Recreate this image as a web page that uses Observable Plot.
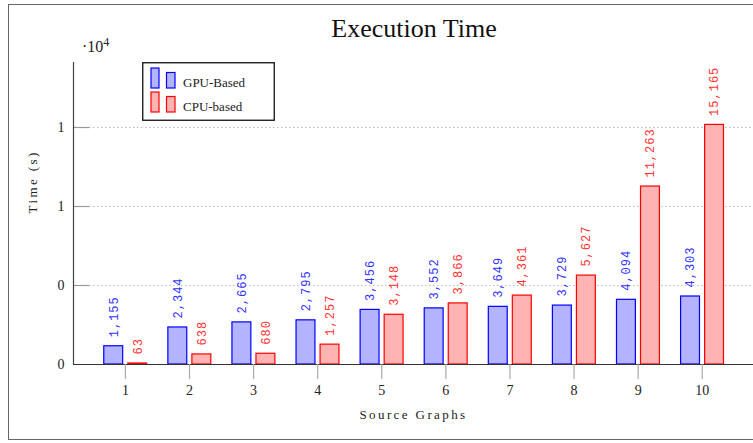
<!DOCTYPE html>
<html>
<head>
<meta charset="utf-8">
<script src="https://cdn.jsdelivr.net/npm/d3@7"></script>
<script src="https://cdn.jsdelivr.net/npm/@observablehq/plot@0.6"></script>
<style>
  html, body { margin: 0; padding: 0; background: #fff; }
  #wrap { position: relative; width: 753px; height: 443px; overflow: hidden; }
  #frame { position: absolute; left: 8px; top: 4px; width: 800px; height: 436px; border: 1.5px solid #666; box-sizing: border-box; }
  #title { position: absolute; left: 0; width: 828px; top: 14px; text-align: center; font-family: "Liberation Serif", serif; font-size: 26px; color: #111; }
  #exp { position: absolute; left: 82px; top: 35px; font-family: "Liberation Serif", serif; font-size: 16px; color: #222; }
  #exp sup { font-size: 12px; vertical-align: 6px; }
  #legend { position: absolute; left: 142px; top: 62px; }
  #chart { position: absolute; left: 0; top: 0; }
</style>
</head>
<body>
<div id="wrap">
  <div id="chart"></div>
  <div id="frame"></div>
  <div id="title">Execution Time</div>
  <div id="exp">·10<sup>4</sup></div>
  <div id="legend"></div>
</div>
<script>
const categories = [1, 2, 3, 4, 5, 6, 7, 8, 9, 10];
const gpuValues = [1155, 2344, 2665, 2795, 3456, 3552, 3649, 3729, 4094, 4303];
const cpuValues = [63, 638, 680, 1257, 3148, 3866, 4361, 5627, 11263, 15165];
const seriesNames = ["GPU-Based", "CPU-based"];
const yTicks = [0, 5000, 10000, 15000];
const yTickLabels = ["0", "0", "1", "1"];
const xLabel = "Source Graphs";
const yLabel = "Time (s)";

const colors = {
  "GPU-Based": {fill: "#b3b3ff", stroke: "#0000ff", text: "#3333ff"},
  "CPU-based": {fill: "#ffb3b3", stroke: "#ff0000", text: "#ff3333"}
};

const rows = [];
categories.forEach((c, i) => {
  rows.push({cat: c, series: seriesNames[0], value: gpuValues[i]});
  rows.push({cat: c, series: seriesNames[1], value: cpuValues[i]});
});

const xDomain = [0.19, 10.8];
const yDomain = [0, 19114];
const isGpu = d => d.series === seriesNames[0];
const fmt = d3.format(",");
const serif = "Liberation Serif, serif";
const mono = "Liberation Mono, monospace";

const chart = Plot.plot({
  width: 753,
  height: 443,
  marginLeft: 73,
  marginRight: 0,
  marginTop: 62,
  marginBottom: 79,
  style: {background: "transparent", overflow: "visible"},
  x: {domain: xDomain, axis: null},
  y: {domain: yDomain, axis: null},
  marks: [
    Plot.ruleY(yTicks.slice(1), {stroke: "#bdbdbd", strokeDasharray: "1.5,2.5", strokeWidth: 1}),
    Plot.tickY(yTicks.slice(1), {stroke: "#999", strokeWidth: 1.2, insetRight: 664}),
    Plot.rectY(rows, {
      x1: d => d.cat + (isGpu(d) ? -0.33 : 0.045),
      x2: d => d.cat + (isGpu(d) ? -0.035 : 0.34),
      y1: 0,
      y2: "value",
      fill: d => colors[d.series].fill,
      stroke: d => colors[d.series].stroke,
      strokeWidth: 1.2
    }),
    Plot.text(rows, {
      x: d => d.cat + (isGpu(d) ? -0.1825 : 0.1925),
      y: "value",
      text: d => fmt(d.value),
      rotate: -90,
      textAnchor: "start",
      lineAnchor: "middle",
      dy: -9,
      fill: d => colors[d.series].text,
      fontFamily: mono,
      fontSize: 12
    }),
    Plot.ruleY([0], {stroke: "#333", strokeWidth: 1.2}),
    Plot.ruleX([xDomain[0]], {stroke: "#444", strokeWidth: 1.2}),
    Plot.axisX(categories, {
      tickSize: 15, tickPadding: 6, stroke: "#aaa", strokeWidth: 1.2,
      fill: "#222", fontSize: 14, fontFamily: serif,
      tickFormat: d => String(d), label: null
    }),
    Plot.axisY(yTicks, {
      tickSize: 0, tickPadding: 9, fill: "#222", fontSize: 14, fontFamily: serif,
      tickFormat: d => yTickLabels[yTicks.indexOf(d)], label: null
    }),
    Plot.text([xLabel], {
      frameAnchor: "bottom", dy: 54, fontFamily: serif, fontSize: 13, fill: "#222"
    }),
    Plot.text([yLabel], {
      frameAnchor: "left", dx: -41, rotate: -90, fontFamily: serif, fontSize: 13, fill: "#222"
    })
  ]
});
document.getElementById("chart").appendChild(chart);

// LaTeX-like letter spacing
d3.select(chart).selectAll("text").each(function() {
  const t = this.textContent;
  const g = this.closest("g");
  const ff = (g && g.getAttribute("font-family")) || "";
  if (t === xLabel || t === yLabel) this.setAttribute("letter-spacing", "2.4px");
  else if (ff.includes("Mono")) this.setAttribute("letter-spacing", "1px");
});

// Legend
const lg = d3.select("#legend").append("svg").attr("width", 134).attr("height", 60);
lg.append("rect").attr("x", 0.75).attr("y", 0.75).attr("width", 131.5).attr("height", 57.5)
  .attr("fill", "#fff").attr("stroke", "#111").attr("stroke-width", 1.3);
seriesNames.forEach((s, i) => {
  const y0 = 26 + i * 24;
  const c = colors[s];
  lg.append("rect").attr("x", 9).attr("y", y0 - 20).attr("width", 8).attr("height", 20)
    .attr("fill", c.fill).attr("stroke", c.stroke).attr("stroke-width", 1.2);
  lg.append("rect").attr("x", 24.5).attr("y", y0 - 15.5).attr("width", 8.5).attr("height", 15.5)
    .attr("fill", c.fill).attr("stroke", c.stroke).attr("stroke-width", 1.2);
  lg.append("text").attr("x", 41).attr("y", y0 - 1).text(s)
    .attr("font-family", serif).attr("font-size", 13).attr("fill", "#222");
});
</script>
</body>
</html>
